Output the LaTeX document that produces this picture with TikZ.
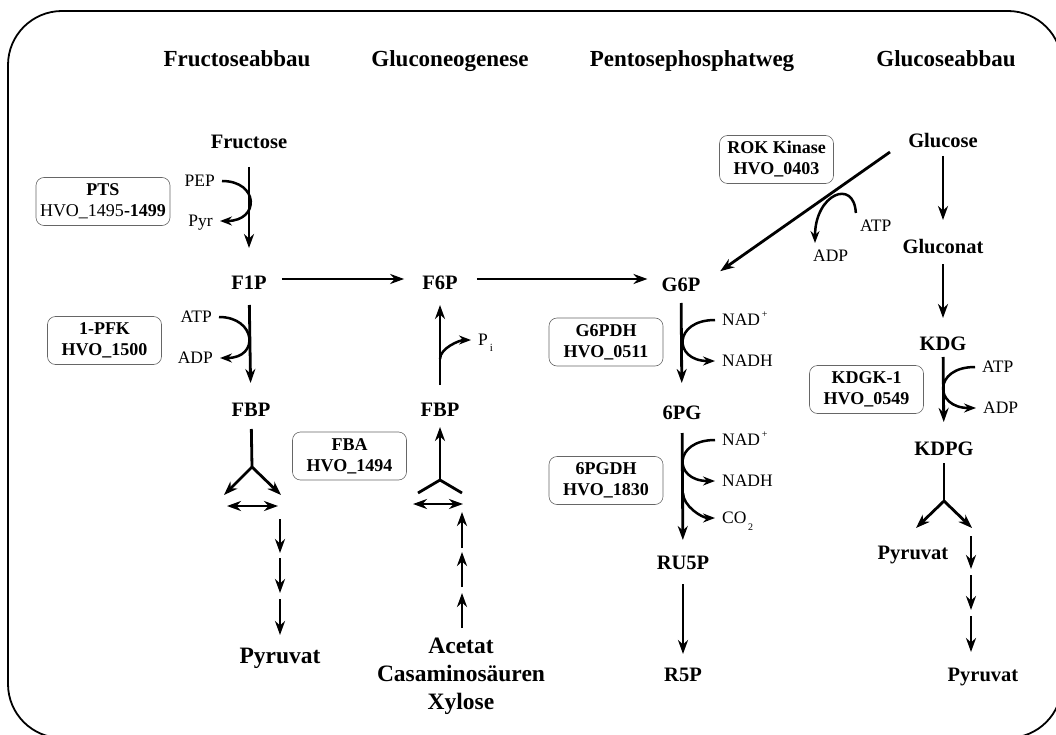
\documentclass[tikz,border=0pt]{standalone}
\usepackage{fontspec}
\setmainfont{Liberation Serif}
\usetikzlibrary{arrows.meta,positioning}

\tikzset{
  rahmen/.style={line width=1.8pt,rounded corners=54pt},
  heading/.style={font=\fontsize{23}{26}\selectfont\bfseries,text height=15.7pt,text depth=0pt,inner sep=0pt},
  met/.style={font=\fontsize{20.5}{24}\selectfont\bfseries,text height=13.6pt,text depth=0pt,inner sep=0pt},
  bigmet/.style={font=\fontsize{23.5}{28}\selectfont\bfseries,align=center,inner sep=0pt},
  cofac/.style={font=\fontsize{17.5}{20}\selectfont,text height=11.6pt,text depth=0pt,inner sep=4pt},
  enzyme/.style={draw=black!60,line width=0.6pt,rounded corners=8pt,align=center,
    minimum width=114pt,minimum height=48pt,inner xsep=4pt,font=\fontsize{18}{21}\selectfont\bfseries},
  stem/.style={line width=2.8pt},
  arr/.style={stem,-{Stealth[length=14pt,width=10pt,inset=4.5pt]}},
  darr/.style={stem,{Stealth[length=14pt,width=10pt,inset=4.5pt]}-{Stealth[length=14pt,width=10pt,inset=4.5pt]}},
  cof/.style={line width=2.5pt,-{Stealth[length=12pt,width=9pt,inset=4pt]},shorten <=3pt,shorten >=3pt}
}

\begin{document}
\begin{tikzpicture}[x=1pt,y=-1pt]
    \useasboundingbox (0,0) rectangle (1056,735);
    \draw[rahmen] (8,11) rectangle (1062,738);

    \node (hFru) at (237,59) [heading] {Fructoseabbau};
    \node (hGng) at (450,59) [heading] {Gluconeogenese};
    \node (hPpw) at (692,59) [heading] {Pentosephosphatweg};
    \node (hGlc) at (946,59) [heading] {Glucoseabbau};

    % Fructoseabbau
    \node (Fru) at (249,142) [met] {Fructose};
    \node (F1P) at (249,283) [met] {F1P};
    \node (FBPa) at (251,410) [met] {FBP};
    \node (PyrA) at (280,658) [bigmet] {Pyruvat};
    \node (PEP) at (219,181) [cofac,anchor=east] {PEP};
    \node (Pyr) at (217,221) [cofac,anchor=east] {Pyr};
    \node (ATPa) at (216,317) [cofac,anchor=east] {ATP};
    \node (ADPa) at (217,358) [cofac,anchor=east] {ADP};
    \node (PTS) at (103,201.5) [enzyme] {PTS\\\textmd{HVO\_1495}-1499};
    \node (PFK) at (104.5,340.5) [enzyme] {1-PFK\\HVO\_1500};
    \node (FBA) at (349.5,456) [enzyme] {FBA\\HVO\_1494};

    \draw[arr,shorten <=18pt,shorten >=28pt] (Fru) -- (F1P);
    \draw[arr,shorten <=15pt,shorten >=20pt] (F1P) -- (FBPa);
    \draw[cof] (PEP.east) .. controls +(40,0) and +(43,0) .. (Pyr.east);
    \draw[cof] (ATPa.east) .. controls +(40,0) and +(43,0) .. (ADPa.east);

    \coordinate (jL) at (252,467);
    \coordinate (aL1) at (224,495);
    \coordinate (aL2) at (281,495);
    \coordinate (eL1) at (227,506);
    \coordinate (eL2) at (278,506);
    \draw[stem,shorten <=12pt] (FBPa) -- (jL);
    \draw[arr] (jL) -- (aL1);
    \draw[arr] (jL) -- (aL2);
    \draw[darr] (eL1) -- (eL2);
    \foreach \i/\a/\b in {1/519/553,2/558/593,3/599/635} {
      \coordinate (sL\i) at (280,\a);
      \coordinate (tL\i) at (280,\b);
      \draw[arr] (sL\i) -- (tL\i);
    }

    % Gluconeogenese
    \node (F6P) at (440,283) [met] {F6P};
    \node (FBPb) at (440,410) [met] {FBP};
    \node (Src) at (461,676.5) [bigmet] {Acetat\\Casaminosäuren\\Xylose};
    \node (Pi) at (474,340) [cofac,anchor=west] {P\smash{\raisebox{-6pt}{\fontsize{11}{12}\selectfont\,i}}};

    \draw[arr,shorten <=15pt,shorten >=18pt] ([yshift=4pt]F1P.east) -- ([yshift=4pt]F6P.west);
    \draw[arr,shorten <=18pt,shorten >=15pt] (FBPb) -- (F6P);
    \coordinate (piS) at (440,362);
    \draw[cof] (piS) .. controls +(0,-14) and +(-14,0) .. (Pi.west);

    \coordinate (jR) at (440,480);
    \coordinate (aR1) at (418,493);
    \coordinate (aR2) at (462,493);
    \coordinate (eR1) at (413,504);
    \coordinate (eR2) at (463,504);
    \draw[arr,shorten >=10pt] (jR) -- (FBPb);
    \draw[stem] (jR) -- (aR1);
    \draw[stem] (jR) -- (aR2);
    \draw[darr] (eR1) -- (eR2);
    \foreach \i/\a/\b in {1/628/593,2/587/552,3/548/512} {
      \coordinate (sR\i) at (462,\a);
      \coordinate (tR\i) at (462,\b);
      \draw[arr] (sR\i) -- (tR\i);
    }

    % Pentosephosphatweg
    \node (G6P) at (681,285) [met] {G6P};
    \node (PG) at (682,413) [met] {6PG};
    \node (Ru5P) at (683,563) [met] {RU5P};
    \node (R5P) at (683,675) [met] {R5P};
    \node (NADa) at (718,320) [cofac,anchor=west] {NAD\smash{\raisebox{8pt}{\fontsize{10}{10}\selectfont\,+}}};
    \node (NADHa) at (718,361) [cofac,anchor=west] {NADH};
    \node (NADb) at (718,440) [cofac,anchor=west] {NAD\smash{\raisebox{8pt}{\fontsize{10}{10}\selectfont\,+}}};
    \node (NADHb) at (718,481) [cofac,anchor=west] {NADH};
    \node (CO2) at (718,518) [cofac,anchor=west] {CO\smash{\raisebox{-7pt}{\fontsize{10}{10}\selectfont\,2}}};
    \node (G6PDH) at (606,342) [enzyme] {G6PDH\\HVO\_0511};
    \node (PGDH) at (606,480.5) [enzyme] {6PGDH\\HVO\_1830};

    \draw[arr,shorten <=19pt,shorten >=14pt] ([yshift=4pt]F6P.east) -- ([yshift=6pt]G6P.west);
    \draw[arr,shorten <=11pt,shorten >=23pt] (G6P) -- (PG);
    \draw[arr,shorten <=13pt,shorten >=16pt] (PG) -- (Ru5P);
    \draw[arr,shorten <=14pt,shorten >=14pt] (Ru5P) -- (R5P);
    \draw[cof] (NADa.west) .. controls +(-45,0) and +(-45,0) .. (NADHa.west);
    \draw[cof] (NADb.west) .. controls +(-45,0) and +(-45,0) .. (NADHb.west);
    \coordinate (coS) at (683,490);
    \draw[cof] (coS) .. controls +(0,16) and +(-16,0) .. (CO2.west);

    % Glucoseabbau
    \node (Glc) at (943,141) [met] {Glucose};
    \node (Gln) at (943,247) [met] {Gluconat};
    \node (KDG) at (943,344) [met] {KDG};
    \node (KDPG) at (944,449) [met] {KDPG};
    \node (PyrB) at (913,553) [met] {Pyruvat};
    \node (PyrC) at (983,675) [met] {Pyruvat};
    \node (ATPr) at (856,226) [cofac,anchor=west] {ATP};
    \node (ADPr) at (809,256) [cofac,anchor=west] {ADP};
    \node (ATPk) at (978,367) [cofac,anchor=west] {ATP};
    \node (ADPk) at (979,408) [cofac,anchor=west] {ADP};
    \node (ROK) at (776.5,159.5) [enzyme] {ROK Kinase\\HVO\_0403};
    \node (KDGK) at (866.5,389.5) [enzyme] {KDGK-1\\HVO\_0549};

    \coordinate (rokS) at (890,152);
    \draw[arr,shorten >=24pt] (rokS) -- (G6P.east);
    \draw[cof] (ATPr.north west) .. controls +(-2,-38) and +(0,-52) .. ([xshift=6pt]ADPr.north west);
    \draw[arr,shorten <=8pt,shorten >=20pt] (Glc) -- (Gln);
    \draw[arr,shorten <=10pt,shorten >=19pt] (Gln) -- (KDG);
    \draw[arr,shorten <=6pt,shorten >=20pt] (KDG) -- (KDPG);
    \draw[cof] (ATPk.west) .. controls +(-45,0) and +(-45,0) .. (ADPk.west);

    \coordinate (jK) at (944,501);
    \coordinate (aK1) at (916,528);
    \coordinate (aK2) at (972,528);
    \draw[stem,shorten <=7pt] (KDPG) -- (jK);
    \draw[arr] (jK) -- (aK1);
    \draw[arr] (jK) -- (aK2);
    \foreach \i/\a/\b in {1/536/569,2/575/610,3/616/652} {
      \coordinate (sK\i) at (971,\a);
      \coordinate (tK\i) at (971,\b);
      \draw[arr] (sK\i) -- (tK\i);
    }

\end{tikzpicture}
\end{document}
